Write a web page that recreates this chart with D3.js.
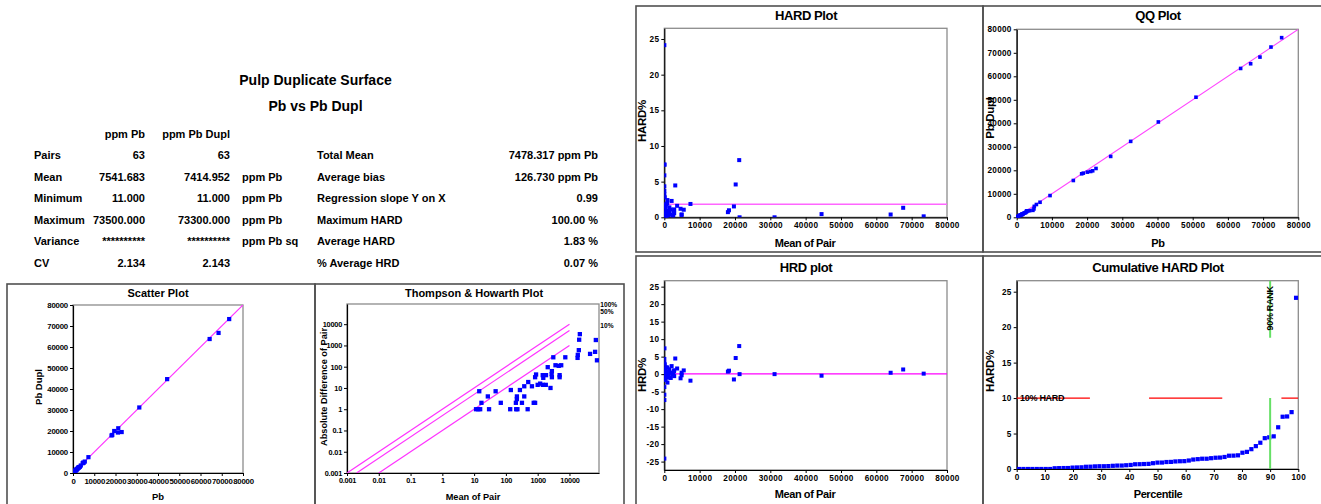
<!DOCTYPE html>
<html>
<head>
<meta charset="utf-8">
<script src="https://cdn.jsdelivr.net/npm/d3@7"></script>
<style>
body { margin: 0; background: #fff; }
svg text { font-family: "Liberation Sans", Arial, sans-serif; font-weight: bold; fill: #000; }
</style>
</head>
<body>
<svg id="chart" width="1321" height="504"></svg>
<script>
// original assay / duplicate assay pairs (ppm Pb)
const pbAssay = [11,12,13,16,16,25,51,29,68,137,
  147,224,220,207,210,231,280,319,380,372,
  484,514,654,751,829,846,868,1007,1192,1457,
  1807,1460,1810,1485,2118,2535,2784,2831,2772,3240,
  3689,4545,5560,4884,4920,7262,
  50,100,300,600,1100,2300,31200,
  73500,68500,64300,44300,18130,18480,19400,21130,22900,21300];
const pbDuplAssay = [18,11,14,15,18,29,44,30,70,136,
  139,220,223,205,211,230,272,321,376,384,
  483,495,666,749,831,814,911,993,1208,1443,
  1793,1420,1850,1515,2023,2525,2816,2769,2727,2963,
  3572,4655,5443,4916,4880,7539,
  50,100,300,600,1100,2300,31200,
  73300,66700,63800,44700,17870,18120,20000,19270,19500,21300];

// QQ plot quantiles as drawn
const qqPb = [11,16,25,29,45,50,68,100,137,150,210,220,230,275,300,320,375,380,485,505,
  600,660,750,830,890,1000,1100,1200,1440,1470,1500,1800,1830,2070,2300,2530,2760,2800,2830,3200,
  3650,4600,4900,5000,5600,6630,9470,16090,18460,18930,20070,21020,21590,22530,26700,32380,40240,
  50930,63620,66460,69110,72240,75270];
const qqPbDupl = [11,15,18,29,44,50,70,100,136,139,205,211,220,230,272,300,321,376,384,483,
  495,600,666,749,814,831,911,993,1100,1208,1420,1443,1515,1793,1850,2023,2300,2525,2727,2769,
  2816,2963,3572,4655,5443,6400,9250,15660,18510,18790,19220,19500,19790,20780,25910,32310,40570,
  51100,63340,65340,68180,72450,76440];

// summary table
const statNames = ["Pairs", "Mean", "Minimum", "Maximum", "Variance", "CV"];
const pbStats = ["63", "7541.683", "11.000", "73500.000", "**********", "2.134"];
const duplStats = ["63", "7414.952", "11.000", "73300.000", "**********", "2.143"];
const statUnits = ["", "ppm Pb", "ppm Pb", "ppm Pb", "ppm Pb sq", ""];
const summaryNames = ["Total Mean", "Average bias", "Regression slope Y on X", "Maximum HARD", "Average HARD", "% Average HRD"];
const summaryValues = ["7478.317 ppm Pb", "126.730 ppm Pb", "0.99", "100.00 %", "1.83 %", "0.07 %"];

// axis ticks and reference levels
const concTicks = [0,10000,20000,30000,40000,50000,60000,70000,80000];
const logTicks = [0.001,0.01,0.1,1,10,100,1000,10000];
const hardTicks = [0,5,10,15,20,25];
const hrdTicks = [-25,-20,-15,-10,-5,0,5,10,15,20,25];
const percentTicks = [0,10,20,30,40,50,60,70,80,90,100];
const precisionLines = [{k: 1, label: "100%"}, {k: 0.5, label: "50%"}, {k: 0.1, label: "10%"}];
const averageHard = 1.83;
const averageHrd = 0.07;
const rankLevel = 90;
const hardLimit = 10;

const svg = d3.select("#chart");
const defs = svg.append("defs");
const BLUE = "#0000ff";

const pairs = pbAssay.map((a, i) => {
  const b = pbDuplAssay[i];
  return {a, b, mean: (a + b) / 2, diff: Math.abs(a - b),
    hrd: (a - b) / (a + b) * 100, hard: Math.abs(a - b) / (a + b) * 100};
});

function text(x, y, str, size, opts = {}) {
  const t = svg.append("text").attr("x", x).attr("y", y)
    .attr("text-anchor", opts.anchor || "middle")
    .style("font-size", size + "px").text(str);
  if (opts.rotate) t.attr("transform", `rotate(-90,${x},${y})`);
  if (opts.spacing) t.style("letter-spacing", opts.spacing + "px");
  return t;
}

function frame(x, y, w, h) {
  svg.append("rect").attr("x", x).attr("y", y).attr("width", w).attr("height", h)
    .attr("fill", "none").attr("stroke", "#505050").attr("stroke-width", 1.6);
}

function plot(cfg) {
  const a = cfg.area;
  defs.append("clipPath").attr("id", "clip-" + cfg.id).append("rect")
    .attr("x", a.left).attr("y", a.top).attr("width", a.right - a.left).attr("height", a.bottom - a.top);
  svg.append("rect").attr("x", a.left).attr("y", a.top)
    .attr("width", a.right - a.left).attr("height", a.bottom - a.top)
    .attr("fill", "#fff").attr("stroke", "#8c8c8c").attr("stroke-width", 1.3);

  const xa = svg.append("g").attr("transform", `translate(0,${a.bottom})`)
    .call(d3.axisBottom(cfg.x).tickValues(cfg.xTicks).tickFormat(d => String(d))
      .tickSizeInner(3).tickSizeOuter(0).tickPadding(2));
  const ya = svg.append("g").attr("transform", `translate(${a.left},0)`)
    .call(d3.axisLeft(cfg.y).tickValues(cfg.yTicks).tickFormat(d => String(d))
      .tickSizeInner(3).tickSizeOuter(0).tickPadding(2));
  [xa, ya].forEach(s => {
    s.attr("font-family", null).attr("font-size", null);
    s.select(".domain").attr("stroke", "#000").attr("stroke-width", 1.2);
    s.selectAll(".tick line").attr("stroke", "#000");
    s.selectAll(".tick text").style("font-size", cfg.tickFont + "px")
      .style("letter-spacing", (cfg.tickSpacing || 0) + "px");
  });

  text(cfg.title.x, cfg.title.y, cfg.title.text, cfg.title.size, {spacing: cfg.title.spacing});
  text(cfg.xLabel.x, cfg.xLabel.y, cfg.xLabel.text, cfg.xLabel.size, {spacing: cfg.xLabel.spacing});
  text(cfg.yLabel.x, cfg.yLabel.y, cfg.yLabel.text, cfg.yLabel.size, {rotate: true, spacing: cfg.yLabel.spacing});

  return svg.append("g").attr("clip-path", `url(#clip-${cfg.id})`);
}

function squares(g, data, fx, fy, size) {
  g.selectAll(null).data(data).join("rect")
    .attr("x", d => fx(d) - size / 2).attr("y", d => fy(d) - size / 2)
    .attr("width", size).attr("height", size).attr("fill", BLUE);
}

// ---------- heading and table ----------
text(315.5, 85, "Pulp Duplicate Surface", 14);
text(315.5, 111, "Pb vs Pb Dupl", 14);

text(145, 137.5, "ppm Pb", 11, {anchor: "end"});
text(230, 137.5, "ppm Pb Dupl", 11, {anchor: "end"});
statNames.forEach((name, i) => {
  const y = 159 + i * 21.5;
  text(34, y, name, 11, {anchor: "start"});
  text(145, y, pbStats[i], 11, {anchor: "end"});
  text(230, y, duplStats[i], 11, {anchor: "end"});
  text(242, y, statUnits[i], 11, {anchor: "start"});
  text(317, y, summaryNames[i], 11, {anchor: "start"});
  text(598, y, summaryValues[i], 11, {anchor: "end"});
});

// ---------- panel frames ----------
frame(7, 284, 308, 224);
frame(315, 284, 309, 224);
frame(636, 6, 347, 246);
frame(983, 6, 342, 246);
frame(636, 256, 347, 252);
frame(983, 256, 342, 252);

// ---------- Scatter plot ----------
{
  const area = {left: 73, top: 305, right: 243, bottom: 473};
  const x = d3.scaleLinear().domain([0, 80000]).range([area.left, area.right]);
  const y = d3.scaleLinear().domain([0, 80000]).range([area.bottom, area.top]);
  const g = plot({id: "scatter", area, x, y, xTicks: concTicks, yTicks: concTicks, tickFont: 7.8, tickSpacing: -0.2,
    title: {x: 158, y: 297, text: "Scatter Plot", size: 11},
    xLabel: {x: 158, y: 500, text: "Pb", size: 9.5},
    yLabel: {x: 41.5, y: 387, text: "Pb Dupl", size: 9.5}});
  g.append("line").attr("x1", x(0)).attr("y1", y(0)).attr("x2", x(80000)).attr("y2", y(80000))
    .attr("stroke", "#ff33ff").attr("stroke-width", 1.2);
  squares(g, pairs, d => x(d.a), d => y(d.b), 4.2);
}

// ---------- Thompson & Howarth plot ----------
{
  const area = {left: 347, top: 304, right: 599, bottom: 473};
  const x = d3.scaleLog().domain([0.001, 85000]).range([area.left, area.right]);
  const y = d3.scaleLog().domain([0.001, 89000]).range([area.bottom, area.top]);
  const g = plot({id: "th", area, x, y, xTicks: logTicks, yTicks: logTicks, tickFont: 7.3, tickSpacing: -0.2,
    title: {x: 474, y: 297, text: "Thompson & Howarth Plot", size: 11},
    xLabel: {x: 473, y: 500, text: "Mean of Pair", size: 9.2},
    yLabel: {x: 327, y: 387, text: "Absolute Difference of Pair", size: 9.2}});
  precisionLines.forEach(p => {
    g.append("line")
      .attr("x1", x(0.001 / p.k)).attr("y1", y(0.001))
      .attr("x2", x(10000)).attr("y2", y(10000 * p.k))
      .attr("stroke", "#ff33ff").attr("stroke-width", 1.2);
  });
  squares(g, pairs.filter(d => d.diff > 0), d => x(d.mean), d => y(d.diff), 4.3);
  text(600.3, 307.3, "100%", 6.6, {anchor: "start"});
  text(600.3, 313.7, "50%", 6.6, {anchor: "start"});
  text(600.3, 328.3, "10%", 6.6, {anchor: "start"});
}

// ---------- HARD plot ----------
{
  const area = {left: 664.3, top: 28.3, right: 947, bottom: 217.3};
  const x = d3.scaleLinear().domain([0, 80000]).range([area.left, area.right]);
  const y = d3.scaleLinear().domain([0, 26.5]).range([area.bottom, area.top]);
  const g = plot({id: "hard", area, x, y, xTicks: concTicks, yTicks: hardTicks, tickFont: 8.2, tickSpacing: 0.3,
    title: {x: 806, y: 19.5, text: "HARD Plot", size: 13, spacing: -0.4},
    xLabel: {x: 805, y: 246.5, text: "Mean of Pair", size: 11, spacing: -0.4},
    yLabel: {x: 645.5, y: 121, text: "HARD%", size: 11.5, spacing: -0.3}});
  g.append("line").attr("x1", area.left).attr("x2", area.right)
    .attr("y1", y(averageHard)).attr("y2", y(averageHard))
    .attr("stroke", "#ff66ff").attr("stroke-width", 1.5);
  squares(g, pairs, d => x(d.mean), d => y(d.hard), 4);
}

// ---------- QQ plot ----------
{
  const area = {left: 1016.7, top: 29.3, right: 1298.3, bottom: 217.3};
  const x = d3.scaleLinear().domain([0, 80000]).range([area.left, area.right]);
  const y = d3.scaleLinear().domain([0, 80000]).range([area.bottom, area.top]);
  const g = plot({id: "qq", area, x, y, xTicks: concTicks, yTicks: concTicks, tickFont: 8.2, tickSpacing: 0.3,
    title: {x: 1158, y: 19.5, text: "QQ Plot", size: 13, spacing: -0.4},
    xLabel: {x: 1158, y: 246.5, text: "Pb", size: 11, spacing: -0.4},
    yLabel: {x: 993.5, y: 118, text: "Pb Dupl", size: 11.5, spacing: -0.3}});
  g.append("line").attr("x1", x(0)).attr("y1", y(0)).attr("x2", x(80000)).attr("y2", y(80000))
    .attr("stroke", "#ff44ff").attr("stroke-width", 1.1);
  squares(g, qqPb.map((v, i) => [v, qqPbDupl[i]]), d => x(d[0]), d => y(d[1]), 3.6);
}

// ---------- HRD plot ----------
{
  const area = {left: 664.3, top: 280.7, right: 947, bottom: 470};
  const x = d3.scaleLinear().domain([0, 80000]).range([area.left, area.right]);
  const y = d3.scaleLinear().domain([-27.4, 26.7]).range([area.bottom, area.top]);
  const g = plot({id: "hrd", area, x, y, xTicks: concTicks, yTicks: hrdTicks, tickFont: 8.2, tickSpacing: 0.3,
    title: {x: 806, y: 271.5, text: "HRD plot", size: 13, spacing: -0.4},
    xLabel: {x: 805, y: 497.5, text: "Mean of Pair", size: 11, spacing: -0.4},
    yLabel: {x: 645.5, y: 375, text: "HRD%", size: 11.5, spacing: -0.3}});
  g.append("line").attr("x1", area.left).attr("x2", area.right)
    .attr("y1", y(averageHrd)).attr("y2", y(averageHrd))
    .attr("stroke", "#ff00ff").attr("stroke-width", 1.3);
  squares(g, pairs, d => x(d.mean), d => y(d.hrd), 4);
}

// ---------- Cumulative HARD plot ----------
{
  const area = {left: 1016.7, top: 280.7, right: 1298.3, bottom: 469};
  const x = d3.scaleLinear().domain([0, 100]).range([area.left, area.right]);
  const y = d3.scaleLinear().domain([0, 26.55]).range([area.bottom, area.top]);
  const g = plot({id: "cum", area, x, y, xTicks: percentTicks, yTicks: hardTicks, tickFont: 8.2, tickSpacing: 0.3,
    title: {x: 1158, y: 271.5, text: "Cumulative HARD Plot", size: 13, spacing: -0.4},
    xLabel: {x: 1158, y: 497.5, text: "Percentile", size: 11, spacing: -0.4},
    yLabel: {x: 993.5, y: 371, text: "HARD%", size: 11.5, spacing: -0.3}});
  const ranked = pairs.map(d => d.hard).sort(d3.ascending)
    .map((h, i, arr) => ({pct: (i + 0.5) / arr.length * 100, hard: h}));
  squares(g, ranked, d => x(d.pct), d => y(d.hard), 4.2);

  const unit = x(1) - x(0);
  g.append("line").attr("x1", x(0)).attr("x2", x(100)).attr("y1", y(hardLimit)).attr("y2", y(hardLimit))
    .attr("stroke", "#ff0000").attr("stroke-width", 1.2)
    .attr("stroke-dasharray", `${26 * unit},${21 * unit}`);
  g.append("line").attr("x1", x(rankLevel)).attr("x2", x(rankLevel)).attr("y1", y(0)).attr("y2", y(hardLimit))
    .attr("stroke", "#66e066").attr("stroke-width", 2);
  g.append("line").attr("x1", x(rankLevel)).attr("x2", x(rankLevel)).attr("y1", y(18.5)).attr("y2", y(26.55))
    .attr("stroke", "#66e066").attr("stroke-width", 2);
  text(x(1.2), y(hardLimit) + 3.2, "10% HARD", 9, {anchor: "start", spacing: -0.3});
  text(x(rankLevel) + 3.2, 330.5, "90% RANK", 9, {anchor: "start", rotate: true, spacing: -0.3});
}
</script>
</body>
</html>
